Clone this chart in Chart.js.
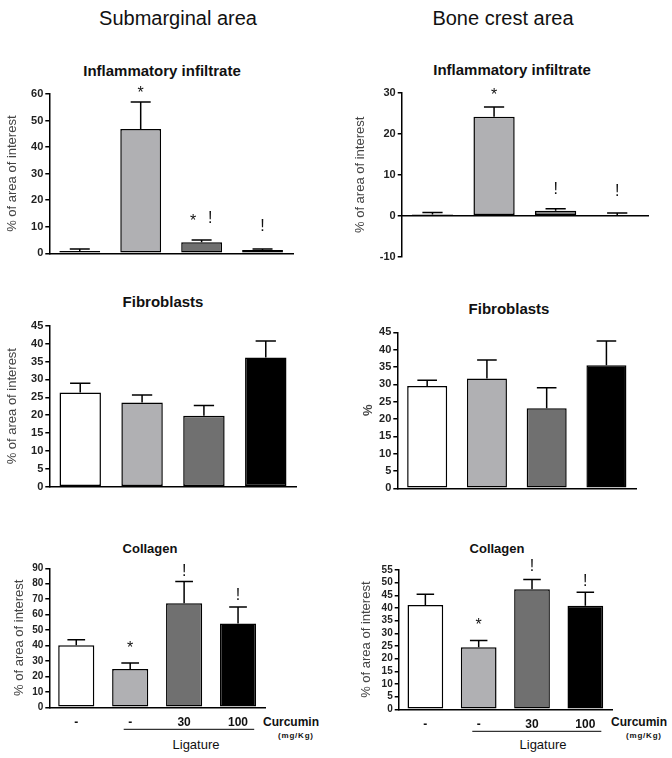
<!DOCTYPE html>
<html><head><meta charset="utf-8">
<script src="https://cdn.jsdelivr.net/npm/chart.js@4.4.1/dist/chart.umd.min.js"></script>
<style>
html,body{margin:0;padding:0;background:#fff;}
body{width:672px;height:758px;position:relative;overflow:hidden;font-family:"Liberation Sans",Arial,sans-serif;color:#111;}
canvas{position:absolute;}
.t{position:absolute;white-space:nowrap;transform:translate(-50%,-50%);line-height:1;}
.l{position:absolute;white-space:nowrap;transform:translate(0,-50%);line-height:1;}
.sec{font-size:20px;}
.ct{font-size:15px;font-weight:bold;}
.ct2{font-size:13px;font-weight:bold;}
.cur{font-size:12px;font-weight:bold;}
.unit{font-size:8px;font-weight:bold;letter-spacing:0.8px;}
.lig{font-size:13px;}
</style></head><body>
<div class="t sec" style="left:178px;top:18px">Submarginal area</div>
<div class="t sec" style="left:503px;top:18px">Bone crest area</div>
<div class="t ct" style="left:162px;top:70px">Inflammatory infiltrate</div>
<div class="t ct" style="left:512px;top:69px">Inflammatory infiltrate</div>
<div class="t ct" style="left:163px;top:301px">Fibroblasts</div>
<div class="t ct" style="left:509px;top:308px">Fibroblasts</div>
<div class="t ct2" style="left:150px;top:548px">Collagen</div>
<div class="t ct2" style="left:497px;top:548px">Collagen</div>
<div class="l cur" style="left:263px;top:722px">Curcumin</div>
<div class="l unit" style="left:278px;top:736px">(mg/Kg)</div>
<div class="t lig" style="left:196px;top:744px">Ligature</div>
<div class="l cur" style="left:611px;top:722px">Curcumin</div>
<div class="l unit" style="left:626px;top:736px">(mg/Kg)</div>
<div class="t lig" style="left:543px;top:744px">Ligature</div>

<canvas id="c1"></canvas><canvas id="c2"></canvas>
<canvas id="c3"></canvas><canvas id="c4"></canvas>
<canvas id="c5"></canvas><canvas id="c6"></canvas>
<script>
// ---------- data ----------
const categories = ['-', '-', '30', '100'];
const barColors = ['#ffffff', '#b0b0b3', '#707070', '#000000'];

// Submarginal area
const subInflMean = [0.9, 46.8, 4.2, 1.2];
const subInflUpper = [1.6, 57.0, 5.0, 1.6];
const subInflSig = ['', '*', '*!', '!'];
const subInflSigY = [null, 61.8, 13.6, 10.7];

const subFibMean = [26.3, 23.5, 19.8, 36.1];
const subFibUpper = [28.9, 25.6, 22.7, 40.7];

const subColMean = [40.2, 24.8, 67.4, 54.2];
const subColUpper = [43.8, 28.7, 81.4, 65.0];
const subColSig = ['', '*', '!', '!'];
const subColSigY = [null, 40.9, 89.0, 73.4];

// Bone crest area
const boneInflMean = [0.3, 24.2, 1.2, 0.1];
const boneInflUpper = [0.8, 26.6, 1.7, 0.7];
const boneInflSig = ['', '*', '!', '!'];
const boneInflSigY = [null, 30.5, 6.8, 6.3];

const boneFibMean = [29.5, 31.7, 23.1, 35.5];
const boneFibUpper = [31.2, 37.0, 29.0, 42.5];

const boneColMean = [41.2, 24.5, 47.4, 40.9];
const boneColUpper = [45.4, 27.2, 51.2, 46.2];
const boneColSig = ['', '*', '!', '!'];
const boneColSigY = [null, 35.1, 56.7, 51.0];

// ---------- drawing ----------
const FONT = '"Liberation Sans", Arial, sans-serif';

function makeChart(id, o) {
  const cv = document.getElementById(id);
  cv.width = o.box.w; cv.height = o.box.h;
  cv.style.left = o.box.x + 'px'; cv.style.top = o.box.y + 'px';
  const yW = o.area.l - o.box.x;
  const padTop = o.area.t - o.box.y;
  const padRight = o.box.x + o.box.w - o.area.r;
  const xH = o.axisAtZero ? 0 : (o.box.y + o.box.h - o.area.b);
  const padBottom = o.axisAtZero ? (o.box.y + o.box.h - o.area.b) : 0;

  const extras = {
    id: 'extras_' + id,
    afterDatasetsDraw(chart) {
      const ctx = chart.ctx;
      const ys = chart.scales.y, xs = chart.scales.x;
      const meta = chart.getDatasetMeta(0);
      ctx.save();
      ctx.strokeStyle = '#000'; ctx.lineWidth = 1.5;
      meta.data.forEach((bar, i) => {
        const top = ys.getPixelForValue(o.upper[i]);
        const hw = bar.width * 0.245;
        ctx.beginPath();
        ctx.moveTo(bar.x, bar.y); ctx.lineTo(bar.x, top);
        ctx.moveTo(bar.x - hw, top); ctx.lineTo(bar.x + hw, top);
        ctx.stroke();
      });
      if (o.sig) {
        const fs = 16;
        ctx.fillStyle = '#111';
        ctx.font = fs + 'px ' + FONT;
        ctx.textAlign = 'center'; ctx.textBaseline = 'alphabetic';
        meta.data.forEach((bar, i) => {
          const s = o.sig[i];
          if (!s) return;
          const yc = ys.getPixelForValue(o.sigY[i]);
          const chars = s.split('');
          chars.forEach((ch, k) => {
            const dx = chars.length > 1 ? (k === 0 ? -8.5 : 8.5) : 0;
            const base = yc + (ch === '*' ? 0.57 : 0.36) * fs;
            ctx.fillText(ch, bar.x + dx, base);
          });
        });
      }
      if (o.ligature) {
        const w = xs.getPixelForValue(1) - xs.getPixelForValue(0);
        const yl = chart.chartArea.bottom + 22;
        ctx.lineWidth = 1;
        ctx.beginPath();
        ctx.moveTo(xs.getPixelForValue(1) - 0.12 * w, yl);
        ctx.lineTo(xs.getPixelForValue(3) + 0.3 * w, yl);
        ctx.stroke();
      }
      ctx.restore();
    }
  };

  return new Chart(cv, {
    type: 'bar',
    data: {
      labels: categories,
      datasets: [{
        data: o.mean,
        backgroundColor: barColors,
        borderColor: '#000',
        borderWidth: 1.5,
        borderSkipped: false,
        barPercentage: 0.67,
        categoryPercentage: 1.0
      }]
    },
    options: {
      responsive: false,
      animation: false,
      devicePixelRatio: 1,
      layout: { padding: { top: padTop, right: padRight, bottom: padBottom, left: 0 } },
      plugins: { legend: { display: false }, tooltip: { enabled: false }, title: { display: false } },
      scales: {
        x: {
          type: 'category',
          offset: true,
          position: o.axisAtZero ? { y: 0 } : 'bottom',
          grid: { display: true, drawOnChartArea: false, drawTicks: false },
          border: { display: true, color: '#000', width: 1.5 },
          ticks: {
            display: !!o.xLabels, autoSkip: false, maxRotation: 0, padding: 8,
            color: '#111', font: { family: FONT, size: 12, weight: 'bold' }
          },
          afterFit: s => { s.height = xH; }
        },
        y: {
          min: o.min, max: o.max,
          ticks: {
            stepSize: o.step, padding: 2, color: '#222', autoSkip: false, maxTicksLimit: 30,
            font: { family: FONT, size: o.tickSize, weight: 'bold' }
          },
          grid: { display: true, drawOnChartArea: false, drawTicks: true, tickLength: 4, color: '#000', lineWidth: 1.5 },
          border: { display: true, color: '#000', width: 1.5 },
          title: {
            display: true, text: o.yTitle, color: '#444',
            font: { family: FONT, size: 13, weight: o.yTitleBold ? 'bold' : 'normal' },
            padding: { top: o.titleX - o.box.x - 7.8, bottom: 0 }
          },
          afterFit: s => { s.width = yW; }
        }
      }
    },
    plugins: [extras]
  });
}

makeChart('c1', {
  box: { x: 0, y: 40, w: 336, h: 232 }, area: { l: 49.3, t: 94, r: 293, b: 253.3 },
  mean: subInflMean, upper: subInflUpper, sig: subInflSig, sigY: subInflSigY,
  min: 0, max: 60, step: 10, tickSize: 11, yTitle: '% of area of interest', titleX: 12.8
});
makeChart('c2', {
  box: { x: 336, y: 40, w: 336, h: 232 }, area: { l: 401.7, t: 93, r: 648, b: 256.7 }, axisAtZero: true,
  mean: boneInflMean, upper: boneInflUpper, sig: boneInflSig, sigY: boneInflSigY,
  min: -10, max: 30, step: 10, tickSize: 11, yTitle: '% of area of interest', titleX: 360
});
makeChart('c3', {
  box: { x: 0, y: 290, w: 336, h: 210 }, area: { l: 49.3, t: 325.7, r: 296.7, b: 486.7 },
  mean: subFibMean, upper: subFibUpper,
  min: 0, max: 45, step: 5, tickSize: 11, yTitle: '% of area of interest', titleX: 12.8
});
makeChart('c4', {
  box: { x: 336, y: 290, w: 336, h: 210 }, area: { l: 397.3, t: 332.3, r: 636.3, b: 488.3 },
  mean: boneFibMean, upper: boneFibUpper,
  min: 0, max: 45, step: 5, tickSize: 11, yTitle: '%', yTitleBold: true, titleX: 368
});
makeChart('c5', {
  box: { x: 0, y: 540, w: 336, h: 218 }, area: { l: 49.3, t: 568.3, r: 265, b: 707.3 },
  mean: subColMean, upper: subColUpper, sig: subColSig, sigY: subColSigY, xLabels: true, ligature: true,
  min: 0, max: 90, step: 10, tickSize: 10, yTitle: '% of area of interest', titleX: 19
});
makeChart('c6', {
  box: { x: 336, y: 540, w: 336, h: 218 }, area: { l: 398.7, t: 570, r: 612, b: 709.3 },
  mean: boneColMean, upper: boneColUpper, sig: boneColSig, sigY: boneColSigY, xLabels: true, ligature: true,
  min: 0, max: 55, step: 5, tickSize: 10, yTitle: '% of area of interest', titleX: 366.5
});
</script>
</body></html>
